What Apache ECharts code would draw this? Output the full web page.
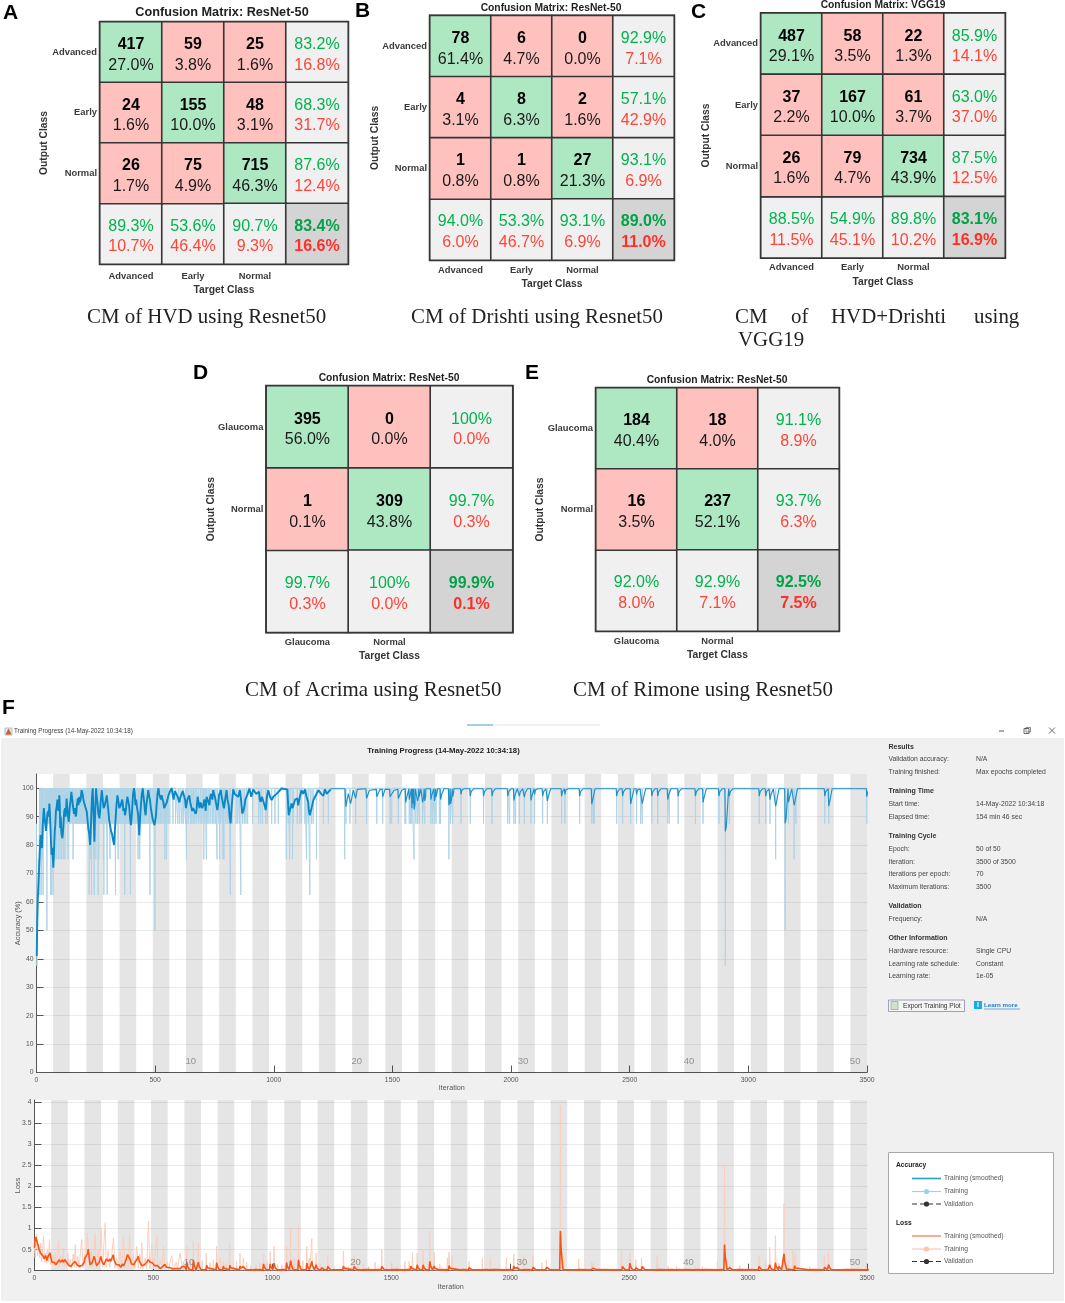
<!DOCTYPE html>
<html><head><meta charset="utf-8">
<style>html,body{margin:0;padding:0;background:#fff}#c{width:1065px;height:1303px}</style>
<script src="https://cdn.jsdelivr.net/npm/echarts@6/dist/echarts.min.js"></script></head>
<body><div id="c"></div>
<script>
// ---------- confusion matrices ----------
const threeClasses = ['Advanced','Early','Normal'];
const twoClasses = ['Glaucoma','Normal'];

const hvdCounts = [[417,59,25],[24,155,48],[26,75,715]];
const hvdPercent = [[27.0,3.8,1.6],[1.6,10.0,3.1],[1.7,4.9,46.3]];
const hvdRowGood = [83.2,68.3,87.6];
const hvdRowBad = [16.8,31.7,12.4];
const hvdColGood = [89.3,53.6,90.7];
const hvdColBad = [10.7,46.4,9.3];
const hvdTotal = [83.4,16.6];

const drishtiCounts = [[78,6,0],[4,8,2],[1,1,27]];
const drishtiPercent = [[61.4,4.7,0.0],[3.1,6.3,1.6],[0.8,0.8,21.3]];
const drishtiRowGood = [92.9,57.1,93.1];
const drishtiRowBad = [7.1,42.9,6.9];
const drishtiColGood = [94.0,53.3,93.1];
const drishtiColBad = [6.0,46.7,6.9];
const drishtiTotal = [89.0,11.0];

const comboCounts = [[487,58,22],[37,167,61],[26,79,734]];
const comboPercent = [[29.1,3.5,1.3],[2.2,10.0,3.7],[1.6,4.7,43.9]];
const comboRowGood = [85.9,63.0,87.5];
const comboRowBad = [14.1,37.0,12.5];
const comboColGood = [88.5,54.9,89.8];
const comboColBad = [11.5,45.1,10.2];
const comboTotal = [83.1,16.9];

const acrimaCounts = [[395,0],[1,309]];
const acrimaPercent = [[56.0,0.0],[0.1,43.8]];
const acrimaRowGood = [100,99.7];
const acrimaRowBad = [0.0,0.3];
const acrimaColGood = [99.7,100];
const acrimaColBad = [0.3,0.0];
const acrimaTotal = [99.9,0.1];

const rimoneCounts = [[184,18],[16,237]];
const rimonePercent = [[40.4,4.0],[3.5,52.1]];
const rimoneRowGood = [91.1,93.7];
const rimoneRowBad = [8.9,6.3];
const rimoneColGood = [92.0,92.9];
const rimoneColBad = [8.0,7.1];
const rimoneTotal = [92.5,7.5];

// ---------- training progress: accuracy ----------
const itersPerEpoch = 70;
const epochCount = 50;
const epochLabels = ['10','20','30','40','50'];
const epochLabelIters = [650,1350,2050,2750,3450];

const accRawStart = [[0,87.5],[1,50],[2,37.5],[4,50],[6,62.5],[8,75],[10,62.5],[12,87.5]];
const accRawAt875 = [34,37,41,46,49,53,58,61,65,70,73,77,82,85,89,93,98,101,105,110,113,117,121,126,129,133,138,141,145,150,153,157,162,165,169,173,178,181,185,190,193,197,201,206,209,213,218,221,225,229,234,237,241,246,249,253,258,261,265,269,274,277,281,286,289,293,298,301,305,310,313,317,321,326,329,333,338,341,345,350,353,357,362,365,369,374,377,381,386,389,393,398,401,405,410,413,417,422,426,
  434,438,443,447,452,456,461,466,472,476,481,486,491,497,503,507,512,517,523,528,534,539,545,549,555,562,575,586,596,604,613,619,628,634,641,650,655,661,667,674,682,690,697,703,710,716,722,727,
  735,742,748,755,769,776,783,797,804,811,825,841,848,855,869,876,883,890,911,936,945,953,966,973,991,1005,1019,1061,1068,1082,1099,1110,1117,1131,1145,1160,1167,1209,1230,1304,1321,1345,1391,1434,1459,1490,1497,1525,1553,
  1556,1571,1577,1582,1599,1606,1613,1627,1636,1662,1669,1677,1684,1698,1703,1745,1754,1789,1828,1884,1920,1986,1994,2012,2019,2035,2056,2084,2099,2133,2153,2213,2227,2289,2340,2347,2351,2445,2470,2504,2529,2546,2553,2593,2618,2660,2667,2704,2777,2809,2876,2920,3046,3073,3091,3169,3201,3322,3339,3499];
const accRawAt75 = [18,24,63,70,78,85,92,99,106,113,120,133,154,222,228,240,250,262,282,298,310,333,344,372,396,428,435,478,541,548,632,705,716,761,772,786,790,1053,1067,1079,1138,1180,1299,1591,1738,3115,3193];
const accRawAt625 = [14,20,28,59,64,70,222,232,243,260,284,298,333,372,396,478,817,861,1152];
const accRawAt50 = [44,499,3155];
const accRawAt375 = [2903];

const accSmoothed = [[1,41],[3,52],[5,60],[8,66],[10,70],[12,74],[15,80],[17,83.5],[20,80],[23,79],[27,88],[31,93],[35,89],[40,85],[46,91],[50,92],[54,94.6],[58,88],[64,76.5],[67,79],[71,72],[75,81],[79,87],[84,93],[88,96],[92,92],[96,97.5],[102,90],[109,82.4],[114,88],[120,93],[127,96.4],[131,92],[136,88.2],[141,94],[147,98.7],[151,96],[155,93],[160,92],[165,90],[170,94],[174,96.4],[182,95],[190,99.3],[197,96.4],[204,94],[212,91.7],[218,86],[226,80],[231,91],[237,100],[241,90],[244,81.2],[248,93],[251,100],[258,94],[265,89.4],[270,95],[275,99.3],[280,95],[285,92.9],[290,95],[296,97.5],[303,92],[310,87],[318,84],[327,80],[334,90],[341,97.5],[346,95],[352,92.9],[358,95],[363,95.2],[368,93],[373,90.5],[380,95],[387,97.5],[392,92],[398,87],[404,94],[411,100],[420,96],[428,91],[433,83.5],[440,94],[448,100],[454,95],[460,90.5],[466,96],[471,99.3],[478,96],[486,91],[494,88],[500,86.4],[506,94],[514,100],[520,98.5],[528,97.5],[535,95],[542,92.9],[549,95],[556,97.5],[563,99],[570,100],[575,98],[580,97.5],[586,99],[591,99.3],[598,97],[605,96.4],[612,98],[619,98.7],[626,96],[633,94.6],[639,96],[644,97.5],[652,95],[660,93],[671,91],[676,94],[682,96.4],[692,95],[703,94],[710,95],[717,97],[726,96],[731,96.4],[738,97.5],[745,99.3],[752,97],[762,92.3],[769,97.5],[777,99.3],[783,96],[790,92.9],[801,99.3],[810,94],[818,87.6],[829,99.6],[843,98.7],[857,99.3],[867,91.1],[877,94],[883,95.8],[897,99.9],[914,99.6],[938,98.7],[945,95.2],[956,97],[966,92.3],[977,99.3],[991,95.8],[1005,96.4],[1019,98.7],[1033,99.9],[1057,99.6],[1063,90.5],[1075,94.6],[1082,92.3],[1099,96.4],[1103,94],[1117,99.3],[1131,99.6],[1145,95.2],[1152,90.5],[1167,95.8],[1181,97.5],[1188,99.3],[1209,97.3],[1216,99.6],[1230,97.5],[1240,99.6]];
const accSmoothedDetail = [[43,88],[48,91],[52,90],[56,92],[61,81],[69,75],[73,76],[77,85],[82,92],[86,94],[90,95],[94,94],[98,94],[100,86],[105,84],[112,85],[117,92],[123,90],[129,94],[133,90],[139,92],[144,96],[149,97],[153,94],[158,91],[163,93],[168,91],[172,95],[177,94],[180,97],[186,96],[194,98],[200,95],[207,93],[215,89],[222,84],[229,86],[234,97],[239,94],[246,88],[254,97],[261,91],[268,92],[273,97],[278,97],[283,93],[288,94],[293,96],[299,95],[306,89],[314,85],[322,82],[330,85],[337,94],[344,96],[349,93],[355,94],[361,96],[366,92],[371,92],[376,92],[383,97],[390,94],[395,89],[401,90],[407,98],[414,98],[417,94],[424,93],[431,87],[436,89],[444,98],[451,97],[457,92],[463,94],[469,98],[475,97],[482,93],[490,89],[497,87],[503,90],[510,98],[517,98],[524,96],[531,96],[538,93],[545,93],[552,96],[559,98],[566,99],[573,98],[578,96],[583,99],[595,97],[602,95],[609,97],[616,99],[623,97],[630,93],[636,96],[648,95],[656,92],[665,93],[674,92],[679,97],[687,93],[698,93],[707,96],[713,92],[721,96],[729,94],[735,98],[741,96],[748,98],[756,95],[765,94],[773,98],[780,97],[787,94],[795,96],[805,96],[814,90],[822,93],[835,98],[850,97],[862,96],[872,92],[880,96],[890,98],[905,97],[925,98],[941,96],[950,97],[961,94],[971,97],[984,97],[998,97],[1012,98],[1070,93],[1079,93],[1090,96],[1110,97],[1124,98],[1138,97],[1148,92],[1159,93],[1174,97],[1200,98],[1223,98]];
const accSmoothedLate = [[1240,99.8],[1300,99.8],[1304,93.5],[1314,98.1],[1324,94.6],[1335,99.3],[1345,96.4],[1352,99.6],[1388,99.8],[1391,96.4],[1403,99.3],[1432,99.6],[1434,97],[1448,99.6],[1457,99.6],[1459,97],[1469,99.6],[1488,99.6],[1490,97],[1497,97.5],[1507,99.3],[1523,99.6],[1525,96.4],[1539,99.3],[1554,99.8]];
const accSmoothedDips = [[1556,95],[1571,96],[1582,93],[1591,92.5],[1606,95.5],[1613,97],[1627,95],[1636,95.5],[1662,96],[1677,95.5],[1684,97],[1703,96],[1738,94],[1745,94.5],[1754,97],[1789,97.8],[1828,97.2],[1884,97.2],[1920,97.2],[1986,97.2],[2012,95.7],[2035,97.2],[2056,96.9],[2084,95.7],[2099,97.8],[2133,97.2],[2153,95.5],[2213,97.2],[2227,97.8],[2289,97.2],[2340,94.4],[2445,97.2],[2470,97.2],[2504,94.4],[2529,97.8],[2553,94.6],[2593,97.2],[2618,97.2],[2660,96],[2704,97.2],[2777,97.2],[2809,95],[2876,97.2],[2903,84.8],[2920,97.2],[3046,97.2],[3073,97.2],[3091,96],[3115,93.7],[3155,87.6],[3169,95],[3193,94],[3322,97.2],[3339,93.7],[3499,97]];

// ---------- training progress: loss ----------
const lossRawEarly = [[0,.55],[3,.3],[9,.86],[13,.35],[18,.62],[22,.3],[26,.66],[30,.2],[34,.5],[38,.82],[42,.2],[46,.42],[50,.18],[54,.5],[58,.2],[63,.74],[67,.15],[71,.45],[75,.14],[80,.38],[84,.12],[88,.42],[93,.14],[101,.7],[105,.12],[110,.36],[115,.14],[121,.54],[125,.08],[130,.3],[135,.1],[140,.42],[145,.08],[150,.28],[156,.06],[163,.4],[167,.08],[171,.62],[176,.08],[182,.34],[188,.06],[193,.44],[199,.74],[204,.06],[210,.4],[214,.1],[222,.9],[227,.9],[232,.08],[240,.5],[245,.08],[250,.46],[255,.88],[260,.06],[268,.5],[273,.08],[280,1.02],[286,.08],[291,.54],[297,1.14],[302,.08],[310,.48],[316,.08],[325,.4],[332,.78],[338,.05],[345,.3],[352,.05],[360,.46],[367,.06],[374,.82],[380,.06],[388,.4],[394,.05],[399,.88],[406,.05],[415,.36],[422,.05],[430,.58],[436,.05],[442,.4],[447,.04],[451,.66],[456,.04],[465,.3],[472,.04],[479,1.18],[485,.04],[493,.62],[500,.04],[507,.36],[514,.82],[520,.03],[530,.24],[535,.03],[542,.58],[548,.03],[558,.2],[563,.03],[577,.36],[583,.03],[596,.2],[601,.03],[612,.42]];
const lossRawPeaks = [[626,.22],[640,.58],[655,.26],[668,.7],[689,.66],[705,.24],[722,.42],[738,.2],[752,.26],[766,.58],[780,.3],[794,.22],[806,.18],[820,.66],[836,.2],[850,.22],[864,.42],[878,.3],[892,.2],[910,.12],[930,.14],[947,.18],[963,.38],[978,.22],[991,.46],[1007,.58],[1022,.16],[1040,.14],[1060,.58],[1077,.98],[1092,.3],[1110,1.07],[1128,.24],[1145,.58],[1155,.3],[1166,.76],[1184,.42],[1200,.14],[1215,.1],[1233,.34],[1258,.1],[1299,.46],[1320,.1],[1344,.34],[1360,.12],[1383,.18],[1405,.1],[1432,.2],[1460,.5],[1480,.1],[1502,.18],[1525,.1],[1557,.22],[1575,.22],[1589,.43],[1609,.42],[1634,.5],[1662,.94],[1680,.44],[1704,.15],[1736,.3],[1743,.44],[1756,.34],[1792,.06],[1827,.22],[1883,.3],[1917,.31],[1984,.31],[2015,.4],[2033,.26],[2057,.34],[2096,.35],[2133,.19],[2152,.26],[2211,3.92],[2288,.28],[2342,.2],[2349,.18],[2468,.48],[2503,.42],[2528,.27],[2552,.3],[2618,.35],[2664,.11],[2699,.11],[2776,.1],[2808,.1],[2871,.22],[2901,2.52],[2923,.14],[2965,.12],[3046,.35],[3073,.2],[3091,.56],[3115,.83],[3130,.18],[3151,1.59],[3168,.22],[3189,.5],[3200,.44],[3259,.1],[3320,.35],[3338,.43],[3400,.06],[3497,.19]];
const lossSmoothedEarly = [[0,.55],[2,.74],[5,.8],[9,.78],[14,.62],[20,.5],[25,.42],[30,.38],[37,.34],[44,.3],[49,.33],[54,.26],[60,.3],[65,.42],[71,.3],[76,.22],[83,.2],[90,.14],[97,.2],[104,.26],[109,.2],[114,.22],[121,.2],[128,.26],[135,.2],[142,.14],[149,.12],[156,.1],[163,.14],[170,.22],[177,.18],[184,.14],[191,.1],[198,.1],[205,.18],[212,.3],[219,.32],[226,.51],[231,.25],[237,.1],[243,.2],[250,.34],[257,.2],[265,.1],[272,.2],[279,.34],[285,.2],[292,.14],[299,.2],[306,.3],[313,.24],[320,.22],[326,.3],[331,.38],[338,.22],[345,.14],[352,.12],[359,.1],[366,.12],[373,.11],[381,.2],[388,.32],[394,.42],[403,.25],[413,.14],[422,.2],[430,.26],[436,.34],[446,.18],[457,.1],[467,.16],[478,.26],[487,.2],[497,.18],[505,.12],[513,.1],[523,.08],[534,.06],[541,.08],[548,.15],[555,.08],[562,.06],[582,.04],[603,.05],[614,.05],[626,.14],[636,.1]];
const lossSmoothedDetail = [[40,.28],[47,.36],[52,.24],[57,.34],[62,.36],[68,.32],[74,.2],[80,.24],[86,.16],[94,.18],[100,.24],[107,.28],[112,.2],[118,.26],[125,.18],[132,.22],[139,.16],[146,.16],[153,.1],[160,.16],[167,.16],[174,.24],[181,.13],[188,.14],[195,.09],[202,.14],[209,.2],[216,.26],[223,.4],[229,.36],[234,.14],[240,.16],[247,.28],[254,.28],[261,.12],[268,.16],[276,.28],[282,.26],[289,.16],[296,.2],[303,.28],[310,.22],[317,.28],[323,.2],[329,.33],[335,.24],[342,.2],[349,.1],[356,.14],[362,.08],[370,.16],[377,.14],[385,.22],[391,.38],[399,.3],[408,.16],[418,.14],[427,.22],[433,.3],[441,.22],[451,.12],[462,.14],[472,.2],[483,.22],[492,.16],[501,.14],[509,.08],[518,.12],[528,.05],[538,.09],[545,.1],[552,.12],[558,.05],[570,.07],[592,.05],[620,.1],[632,.1]];
const lossSmoothedPeaks = [[640,.2],[668,.25],[689,.2],[724,.13],[766,.19],[794,.11],[822,.13],[864,.11],[878,.1],[920,.06],[963,.16],[991,.16],[1007,.18],[1032,.06],[1060,.19],[1077,.24],[1110,.26],[1145,.18],[1166,.22],[1184,.14],[1207,.07],[1233,.1],[1299,.11],[1344,.1],[1383,.06],[1432,.06],[1460,.1],[1502,.06],[1557,.06],[1582,.11],[1592,.07],[1609,.14],[1634,.14],[1662,.22],[1680,.11],[1704,.05],[1743,.12],[1754,.09],[1792,.04],[1827,.07],[1886,.06],[1918,.06],[1984,.06],[2015,.11],[2029,.07],[2057,.06],[2096,.08],[2136,.06],[2155,.08],[2211,.94],[2278,.05],[2342,.06],[2349,.06],[2472,.1],[2503,.18],[2528,.07],[2555,.1],[2618,.06],[2664,.04],[2699,.05],[2724,.04],[2776,.04],[2808,.04],[2874,.05],[2901,.62],[2923,.07],[2950,.03],[3046,.1],[3073,.06],[3091,.14],[3115,.19],[3130,.1],[3151,.4],[3168,.06],[3196,.12],[3259,.04],[3322,.08],[3339,.14],[3400,.03],[3497,.03]];

// ---------- side panel text ----------
const infoSections = [
  ['Results',747],['Training Time',791],['Training Cycle',836],['Validation',906],['Other Information',938]];
const infoRows = [
  ['Validation accuracy:','N/A',759.6],['Training finished:','Max epochs completed',772],
  ['Start time:','14-May-2022 10:34:18',804],['Elapsed time:','154 min 46 sec',817],
  ['Epoch:','50 of 50',849],['Iteration:','3500 of 3500',862],['Iterations per epoch:','70',874],['Maximum iterations:','3500',887],
  ['Frequency:','N/A',919],
  ['Hardware resource:','Single CPU',951],['Learning rate schedule:','Constant',964],['Learning rate:','1e-05',976.5]];

// ---------- builders ----------
const SANS = '"Liberation Sans", Arial, sans-serif';
const SERIF = '"Liberation Serif", serif';
const fmt = v => v === 100 ? '100%' : v.toFixed(1) + '%';
function cells(counts, pct, rowGood, rowBad, colGood, colBad, total) {
  const n = counts.length, out = [];
  for (let r = 0; r < n; r++) {
    for (let c = 0; c < n; c++)
      out.push({value:[c, r, r === c ? 0 : 1], text:`{n|${counts[r][c]}}\n{p|${fmt(pct[r][c])}}`});
    out.push({value:[n, r, 2], text:`{g|${fmt(rowGood[r])}}\n{r|${fmt(rowBad[r])}}`});
    out.push({value:[r, n, 2], text:`{g|${fmt(colGood[r])}}\n{r|${fmt(colBad[r])}}`});
  }
  out.push({value:[n, n, 3], text:`{gb|${fmt(total[0])}}\n{rb|${fmt(total[1])}}`});
  return out;
}
const panels = [
  {cats:threeClasses, cell:cells(hvdCounts,hvdPercent,hvdRowGood,hvdRowBad,hvdColGood,hvdColBad,hvdTotal), title:'Confusion Matrix: ResNet-50', l:100,r:348,t:22,b:264, tx:222,ty:6, ts:12.7, lm:8, nx:21, ny:51, letter:'A',lx:3,ly:13},
  {cats:threeClasses, cell:cells(drishtiCounts,drishtiPercent,drishtiRowGood,drishtiRowBad,drishtiColGood,drishtiColBad,drishtiTotal), title:'Confusion Matrix: ResNet-50', l:430,r:674,t:15.7,b:260, tx:551,ty:3, ts:10.3, lm:5.5, nx:19, ny:50, letter:'B',lx:355,ly:11},
  {cats:threeClasses, cell:cells(comboCounts,comboPercent,comboRowGood,comboRowBad,comboColGood,comboColBad,comboTotal), title:'Confusion Matrix: VGG19', l:761,r:1005,t:13.3,b:257.7, tx:883,ty:0.5, ts:10.3, lm:5.5, nx:19, ny:50, letter:'C',lx:691,ly:12},
  {cats:twoClasses, cell:cells(acrimaCounts,acrimaPercent,acrimaRowGood,acrimaRowBad,acrimaColGood,acrimaColBad,acrimaTotal), title:'Confusion Matrix: ResNet-50', l:266.4,r:512.5,t:386,b:632.3, tx:389,ty:373, ts:10.3, lm:5.5, nx:19, ny:50.5, letter:'D',lx:193,ly:373},
  {cats:twoClasses, cell:cells(rimoneCounts,rimonePercent,rimoneRowGood,rimoneRowBad,rimoneColGood,rimoneColBad,rimoneTotal), title:'Confusion Matrix: ResNet-50', l:596,r:839,t:388,b:631, tx:717,ty:375, ts:10.3, lm:5.5, nx:19, ny:51, letter:'E',lx:525,ly:373}
];
const W = 1065, H = 1303;
const grids = [], xAxes = [], yAxes = [], series = [], titles = [];
panels.forEach((p, i) => {
  grids.push({left:p.l, top:p.t, width:p.r - p.l, height:p.b - p.t, outerBoundsMode:'none',
    show:true, backgroundColor:'transparent', borderColor:'#2e2e2e', borderWidth:2.4});
  xAxes.push({gridIndex:i, type:'category', data:[...p.cats,''], position:'bottom',
    axisLine:{show:false}, axisTick:{show:false}, splitLine:{show:false}, splitArea:{show:false},
    axisLabel:{color:'#3a3a3a', fontFamily:SANS, fontWeight:'bold', fontSize:9.4, margin:p.lm, interval:0},
    name:'Target Class', nameLocation:'middle', nameGap:p.nx, nameMoveOverlap:false,
    nameTextStyle:{color:'#333', fontFamily:SANS, fontWeight:'bold', fontSize:10.3}});
  yAxes.push({gridIndex:i, type:'category', inverse:true, data:[...p.cats,''],
    axisLine:{show:false}, axisTick:{show:false}, splitLine:{show:false}, splitArea:{show:false},
    axisLabel:{color:'#3a3a3a', fontFamily:SANS, fontWeight:'bold', fontSize:9.4, margin:3, interval:0},
    name:'Output Class', nameLocation:'middle', nameGap:p.ny, nameMoveOverlap:false,
    nameTextStyle:{color:'#333', fontFamily:SANS, fontWeight:'bold', fontSize:10.3}});
  series.push({type:'heatmap', xAxisIndex:i, yAxisIndex:i, data:p.cell, animation:false, progressive:0,
    itemStyle:{borderColor:'#363636', borderWidth:1.6},
    emphasis:{disabled:true},
    label:{show:true, offset:[0,2.7], formatter:d => d.data.text, rich:{
      n:{fontFamily:SANS, fontWeight:'bold', fontSize:16, color:'#000', lineHeight:20.5},
      p:{fontFamily:SANS, fontSize:16, color:'#1a1a1a', lineHeight:20.5},
      g:{fontFamily:SANS, fontSize:16, color:'#00b34f', lineHeight:20.5},
      r:{fontFamily:SANS, fontSize:16, color:'#ff4438', lineHeight:20.5},
      gb:{fontFamily:SANS, fontWeight:'bold', fontSize:16, color:'#00a347', lineHeight:20.5},
      rb:{fontFamily:SANS, fontWeight:'bold', fontSize:16, color:'#ff2f24', lineHeight:20.5}}}});
  titles.push({text:p.title, left:p.tx, top:p.ty, textAlign:'center', padding:0,
    textStyle:{fontFamily:SANS, fontWeight:'bold', fontSize:p.ts, color:'#222'}});
});

// training plots
const accDips = new Map();
[[accRawAt875,87.5],[accRawAt75,75],[accRawAt625,62.5],[accRawAt50,50],[accRawAt375,37.5]].forEach(([list,v]) => {
  list.forEach(i => { if (!accDips.has(i) || accDips.get(i) > v) accDips.set(i, v); });
});
const accRaw = [...accRawStart];
[...accDips.entries()].sort((a,b) => a[0]-b[0]).forEach(([i,v]) => accRaw.push([i-1,100],[i,v],[i+1,100]));
accRaw.push([3500,100]);
const accEarly = [...accSmoothed, ...accSmoothedDetail].sort((a,b) => a[0]-b[0]);
const accLate = [...accSmoothedLate];
accSmoothedDips.forEach(([i,v]) => accLate.push([i-2,99.8],[i,v],[i+4,v+1.6],[i+14,99.8]));
accLate.sort((a,b) => a[0]-b[0]);
const lossRaw = [...lossRawEarly];
lossRawPeaks.forEach(([i,v]) => lossRaw.push([i-2,.02],[i,v],[i+2,.02]));
lossRaw.sort((a,b) => a[0]-b[0]);
const lossSmooth = [...lossSmoothedEarly, ...lossSmoothedDetail];
lossSmoothedPeaks.forEach(([i,v]) => lossSmooth.push([i-3,.02],[i,v],[i+3,v*.55],[i+11,.025]));
lossSmooth.sort((a,b) => a[0]-b[0]);

const bands = [];
for (let e = 1; e < epochCount; e += 2) bands.push([{xAxis:e*itersPerEpoch},{xAxis:(e+1)*itersPerEpoch}]);
const accTicks = [0,10,20,30,40,50,60,70,80,90,100];
const lossTicks = [0,.5,1,1.5,2,2.5,3,3.5,4];
const tickFont = {color:'#555', fontFamily:SANS, fontSize:6.8};
function progressAxes(gridIndex, yMax, ticks, yName, nameGapY, nameGapX) {
  grids.push({left:gridIndex === 5 ? 36.5 : 34.5, top:gridIndex === 5 ? 774 : 1100,
    width:gridIndex === 5 ? 830.5 : 832.5, height:gridIndex === 5 ? 298.5 : 170.7,
    show:true, backgroundColor:'#fff', borderWidth:0, outerBoundsMode:'none'});
  xAxes.push({gridIndex, type:'value', min:0, max:3500, interval:500,
    axisLine:{onZero:false, lineStyle:{color:'#555', width:1}},
    axisTick:{inside:true, length:7, lineStyle:{color:'#555', width:1}},
    axisLabel:{...tickFont, margin:4, formatter:v => String(v)}, splitLine:{show:false},
    name:'Iteration', nameLocation:'middle', nameGap:nameGapX, nameMoveOverlap:false,
    nameTextStyle:{...tickFont, fontSize:7.2}});
  yAxes.push({gridIndex, type:'value', min:0, max:yMax,
    axisLine:{onZero:false, lineStyle:{color:'#555', width:1}},
    axisTick:{inside:true, length:7, customValues:ticks, lineStyle:{color:'#555', width:1}},
    axisLabel:{...tickFont, margin:3, customValues:ticks},
    splitLine:{show:true, lineStyle:{color:'#ebebeb', width:1}},
    name:yName, nameLocation:'middle', nameGap:nameGapY, nameMoveOverlap:false,
    nameTextStyle:{...tickFont, fontSize:7.4}});
}
progressAxes(5, 105, accTicks, 'Accuracy (%)', 15, 12.5);
progressAxes(6, 4.05, lossTicks, 'Loss', 13, 13);
const epochSeries = (g, y) => ({type:'scatter', xAxisIndex:g, yAxisIndex:g, symbolSize:0, silent:true, animation:false,
  data:epochLabelIters.map((x,i) => ({value:[x,y], name:epochLabels[i]})), z:5,
  label:{show:true, position:'inside', formatter:d => d.name, color:'#7d7d7d', fontFamily:SANS, fontSize:9.5}});
const lineBase = g => ({type:'line', xAxisIndex:g, yAxisIndex:g, showSymbol:false, animation:false, silent:true, sampling:null});
series.push(
  {...lineBase(5), name:'Training', data:accRaw, z:3, lineStyle:{color:'#b0d4e6', width:1},
    markArea:{silent:true, animation:false, itemStyle:{color:'rgba(0,0,0,0.1)'}, data:bands}},
  {...lineBase(5), name:'Training (smoothed)', data:accEarly, z:4, lineStyle:{color:'#0a87c6', width:1.9}},
  {...lineBase(5), name:'Training (smoothed)', data:accLate, z:4, lineStyle:{color:'#1e90c8', width:1.15}},
  epochSeries(5, 4),
  {...lineBase(6), name:'Training', data:lossRaw, z:3, lineStyle:{color:'#f9cfbf', width:1},
    markArea:{silent:true, animation:false, itemStyle:{color:'rgba(0,0,0,0.1)'}, data:bands}},
  {...lineBase(6), name:'Training (smoothed)', data:lossSmooth, z:4, lineStyle:{color:'#fb5314', width:1.6}},
  epochSeries(6, .2)
);

// free text & window chrome
const g = [];
const txt = (x,y,text,font,fill='#333',align='left') =>
  g.push({type:'text', x, y, z:20, silent:true, style:{text, font, fill, textAlign:align, textVerticalAlign:'middle', verticalAlign:'middle'}});
const line = (x1,y1,x2,y2,stroke,lineWidth=1,extra={}) =>
  g.push({type:'line', z:20, silent:true, shape:{x1,y1,x2,y2}, style:{stroke,lineWidth,...extra}});
const rect = (x,y,width,height,fill,stroke,z=20,lineWidth=1) =>
  g.push({type:'rect', z, silent:true, shape:{x,y,width,height}, style:{fill,stroke,lineWidth}});
const dot = (cx,cy,r,fill) => g.push({type:'circle', z:21, silent:true, shape:{cx,cy,r}, style:{fill}});

rect(1,738,1063,563,'#f0f0f0',null,-100);
panels.forEach(p => txt(p.lx,p.ly,p.letter,`bold 21px ${SANS}`,'#000'));
txt(2,708,'F',`bold 21px ${SANS}`,'#000');
const capFont = `20.9px ${SERIF}`;
txt(87,318,'CM of HVD using Resnet50',capFont,'#222');
txt(411,318,'CM of Drishti using Resnet50',capFont,'#222');
txt(735,318,'CM',capFont,'#222'); txt(791,318,'of',capFont,'#222');
txt(831,318,'HVD+Drishti',capFont,'#222'); txt(974,318,'using',capFont,'#222');
txt(738,341,'VGG19',capFont,'#222');
txt(245,690.5,'CM of Acrima using Resnet50',capFont,'#222');
txt(573,690.5,'CM of Rimone using Resnet50',capFont,'#222');

// window title bar
line(467,725,493,725,'#62b1cf',1.2); line(493,725,600,725,'#e2e6e8',1.2);
rect(5,728,7,7,'#dfe6ee','#b8c2cc');
g.push({type:'polygon', z:21, silent:true, shape:{points:[[5.5,734.5],[8.5,728.5],[11.5,734.5]]}, style:{fill:'#e0552a'}});
txt(14,731.5,'Training Progress (14-May-2022 10:34:18)',`6.3px ${SANS}`,'#444');
line(999,731,1004,731,'#555',1);
rect(1024,728.5,5,5,null,'#444',20,.8); rect(1026,727.5,4.5,4.5,null,'#444',20,.6);
line(1049,727.5,1055,733.5,'#444',.8); line(1055,727.5,1049,733.5,'#444',.8);
txt(443.5,751,'Training Progress (14-May-2022 10:34:18)',`bold 7.75px ${SANS}`,'#222','center');

// side panel
infoSections.forEach(([t,y]) => txt(888.5,y,t,`bold 7px ${SANS}`,'#333'));
infoRows.forEach(([a,b,y]) => { txt(888.5,y,a,`6.8px ${SANS}`,'#444'); txt(976,y,b,`6.8px ${SANS}`,'#444'); });
rect(888.5,1000,76,11.5,'#f4f4f4','#8a8ab0',20,.8);
rect(891,1001.5,7,8,'#cfe0cc','#7f9a7f',21,.6);
txt(903,1005.8,'Export Training Plot',`6.6px ${SANS}`,'#333');
rect(974,1001,8,8,'#18ace6',null);
txt(978,1005,'i',`bold 7px ${SANS}`,'#fff','center');
txt(984,1005,'Learn more',`bold 6.2px ${SANS}`,'#1a7fd0');
line(984,1009,1020,1009,'#1a7fd0',.6);

// legend box
rect(888.5,1152.5,165,121,'#fff','#a8a8a8',20,1);
const lgFont = `6.7px ${SANS}`;
const lgRows = [
  ['Accuracy',1165.5,null,null],
  ['Training (smoothed)',1178.5,'#2a9ccb','solid'],
  ['Training',1191.5,'#9fd2ea','mark'],
  ['Validation',1204,'#333','val'],
  ['Loss',1223,null,null],
  ['Training (smoothed)',1236,'#f59a7e','solid'],
  ['Training',1249,'#fdc4b2','mark'],
  ['Validation',1261.5,'#333','val']];
lgRows.forEach(([t,y,c,kind]) => {
  if (!c) { txt(896,y,t,`bold 6.7px ${SANS}`,'#222'); return; }
  txt(944,y,t,lgFont,'#555');
  if (kind === 'val') { line(912,y,941,y,c,1,{lineDash:[5,3]}); dot(926.5,y,2.6,c); }
  else { line(912,y,941,y,c,kind === 'solid' ? 1.6 : 1.2); if (kind === 'mark') dot(926.5,y,2.6,c); }
});

const chart = echarts.init(document.getElementById('c'), null, {renderer:'canvas', width:W, height:H});
chart.setOption({
  backgroundColor:'#fff', animation:false, tooltip:{show:false},
  title:titles, grid:grids, xAxis:xAxes, yAxis:yAxes, series, graphic:{elements:g},
  visualMap:{type:'piecewise', show:false, dimension:2, seriesIndex:[0,1,2,3,4],
    pieces:[{value:0,color:'#ade8c3'},{value:1,color:'#ffc1bd'},{value:2,color:'#f0f0f0'},{value:3,color:'#d4d4d4'}]}
});
</script></body></html>
